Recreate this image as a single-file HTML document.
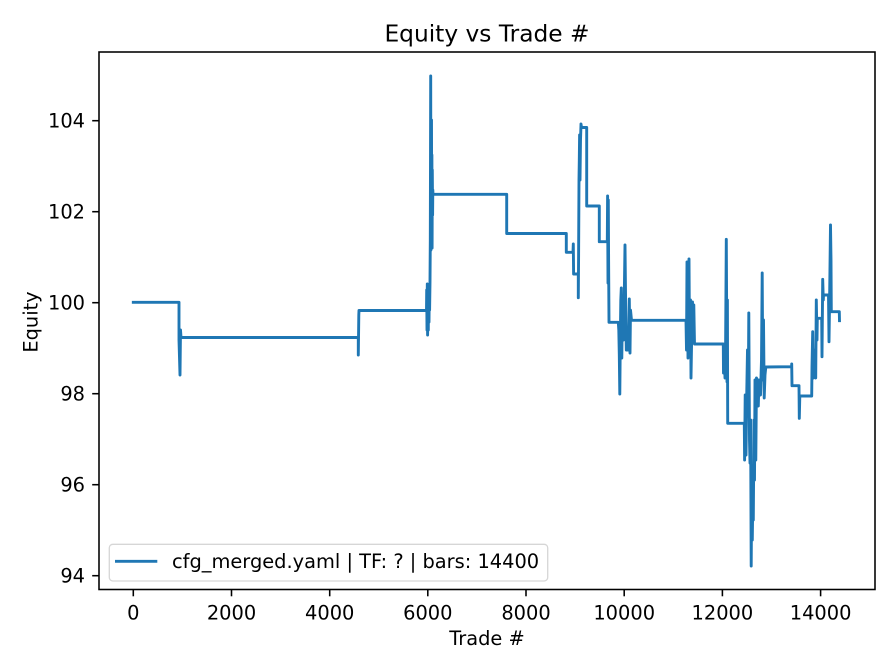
<!DOCTYPE html>
<html><head><meta charset="utf-8"><style>
html,body{margin:0;padding:0;background:#fff;}
svg{display:block;}
text{font-family:"DejaVu Sans","Liberation Sans",sans-serif;fill:#000;}
</style></head><body>
<svg width="896" height="672" viewBox="0 0 896 672" xmlns="http://www.w3.org/2000/svg">
<rect width="896" height="672" fill="#fff"/>
<text x="487" y="41.5" font-size="23.3" text-anchor="middle">Equity vs Trade #</text>
<polyline fill="none" stroke="#1f77b4" stroke-width="2.9" stroke-linejoin="round" stroke-linecap="square" points="
133.3,302.3 179,302.3 179,340 180,375 180.5,330 181,337.5 358.3,337.5 358.3,355 358.8,315 359,310.5 426.5,310.5
426.7,290 427,330 427.3,284 427.6,335 428,295 428.3,330 428.6,286 429,322 429.3,290 429.6,310 430,282 430.3,240 430.5,160 430.7,76 430.9,250 431.1,150 431.3,245 431.5,120 431.7,235 431.9,155 432.1,248 432.3,170 432.6,215 432.8,190 433,194.3
506.7,194.3 506.7,233.5 566.3,233.5 566.3,252.3 573,252.3 573.3,244 573.6,274 578.3,274 578.3,297.7 578.6,255 579,180 579.3,160 579.6,135 580,180 580.5,140 581,124 581.5,127.5
586.7,127.5 586.7,206 599.3,206 599.3,241.7 607.3,241.7 607.6,196 608,283 608.3,200 608.6,260 609,322.3 618.3,322.3
618.8,330 619.3,355 619.8,394 620.3,340 620.8,300 621.3,288 621.8,358 622.5,300 623.5,340 624.5,280 625,245 625.6,300 626.3,350 628.5,350 629.3,299 630,353 630.5,310 631.5,320.3 686,320.3
686.5,350 687,262 687.5,310 688,358 688.5,290 689,259 689.5,340 690.5,300 691,378 691.8,330 692.5,302 693.2,340 693.8,305 694.5,344 723.3,344
723.5,373 724.3,355 725,378 725.5,360 726.3,239.3 727,381.7 727.4,300 727.7,423.3 744.3,423.3
744.6,460 745.2,395 746,455 746.8,390 747.5,350 748.2,410 748.8,313 749.5,440 750,463 750.6,420 751.2,566 751.8,470 752.3,540 752.8,500 753.3,520 754,420 754.5,480 755,380 755.8,460 756.5,378 757.5,382 758.3,406 759,380 760.5,395 761.5,360 762.2,273 762.8,380 763.5,320 764.2,398 765,375 765.8,367
791.7,366.7 791.7,364 792,385.7 799,385.7 799.3,418.3 799.8,396 811.7,396
812,366.7 812.7,331.7 813.3,378 814,350 815,375 815.7,378 816.3,300 817,340 817.3,318.3 821.7,318.3 822,356.7 822.7,279.3 823.3,300 823.5,295 828.5,295 829,341.7 829.6,300 830.5,225 831,260 831.3,311.7 839.3,311.7 839.5,320.7"/>
<rect x="99" y="52" width="776" height="537.5" fill="none" stroke="#000" stroke-width="1.56"/>
<g stroke="#000" stroke-width="1.56">
<line x1="133.3" y1="589.5" x2="133.3" y2="596.3"/>
<line x1="231.5" y1="589.5" x2="231.5" y2="596.3"/>
<line x1="329.7" y1="589.5" x2="329.7" y2="596.3"/>
<line x1="427.8" y1="589.5" x2="427.8" y2="596.3"/>
<line x1="526" y1="589.5" x2="526" y2="596.3"/>
<line x1="624.2" y1="589.5" x2="624.2" y2="596.3"/>
<line x1="722.4" y1="589.5" x2="722.4" y2="596.3"/>
<line x1="820.6" y1="589.5" x2="820.6" y2="596.3"/>
<line x1="92.2" y1="575.7" x2="99" y2="575.7"/>
<line x1="92.2" y1="484.7" x2="99" y2="484.7"/>
<line x1="92.2" y1="393.7" x2="99" y2="393.7"/>
<line x1="92.2" y1="302.7" x2="99" y2="302.7"/>
<line x1="92.2" y1="211.7" x2="99" y2="211.7"/>
<line x1="92.2" y1="120.7" x2="99" y2="120.7"/>
</g>
<g font-size="19.4" text-anchor="middle">
<text x="133.3" y="619.5">0</text>
<text x="231.5" y="619.5">2000</text>
<text x="329.7" y="619.5">4000</text>
<text x="427.8" y="619.5">6000</text>
<text x="526" y="619.5">8000</text>
<text x="624.2" y="619.5">10000</text>
<text x="722.4" y="619.5">12000</text>
<text x="820.6" y="619.5">14000</text>
</g>
<g font-size="19.4" text-anchor="end">
<text x="85" y="582.7">94</text>
<text x="85" y="491.7">96</text>
<text x="85" y="400.7">98</text>
<text x="85" y="309.7">100</text>
<text x="85" y="218.7">102</text>
<text x="85" y="127.7">104</text>
</g>
<text x="487" y="645" font-size="19.4" text-anchor="middle">Trade #</text>
<text transform="translate(37.5,322) rotate(-90)" font-size="19.4" text-anchor="middle">Equity</text>
<rect x="109.3" y="544.3" width="438.4" height="36.7" rx="3.5" ry="3.5" fill="#fff" fill-opacity="0.8" stroke="#d6d6d6" stroke-width="1.3"/>
<line x1="115" y1="561.3" x2="157.3" y2="561.3" stroke="#1f77b4" stroke-width="2.9"/>
<text x="172" y="568" font-size="19.4">cfg_merged.yaml | TF: ? | bars: 14400</text>
</svg>
</body></html>
